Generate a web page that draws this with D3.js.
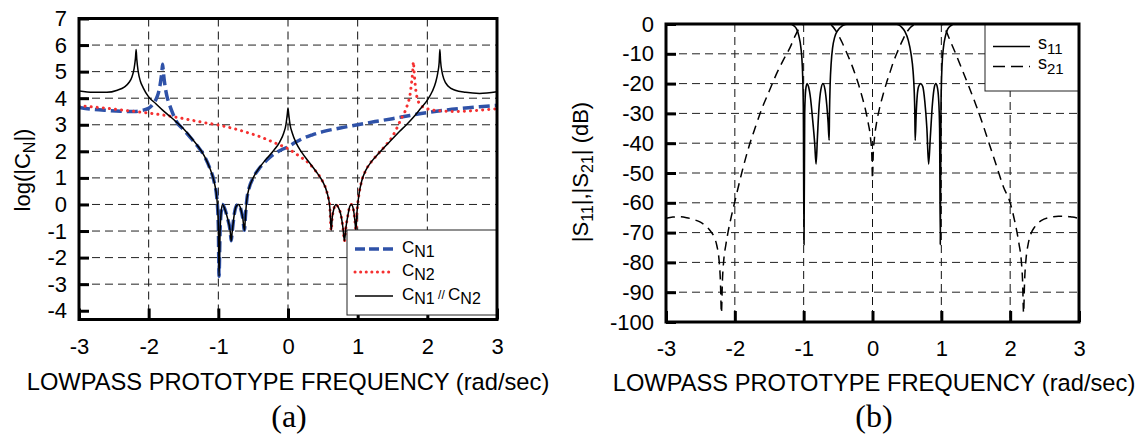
<!DOCTYPE html>
<html>
<head>
<meta charset="utf-8">
<script src="https://cdnjs.cloudflare.com/ajax/libs/d3/7.8.5/d3.min.js"></script>
<style>
  body { margin: 0; background: #fff; }
  svg { display: block; }
  text { font-family: "Liberation Sans", Arial, sans-serif; fill: #000; }
</style>
</head>
<body>
<svg width="1140" height="435"></svg>
<script>
// ticks
var freqTicks = [-3, -2, -1, 0, 1, 2, 3];
var cnTicks = [7, 6, 5, 4, 3, 2, 1, 0, -1, -2, -3, -4];
var sTicks = [0, -10, -20, -30, -40, -50, -60, -70, -80, -90, -100];

// (a) log|C_N| curves, [frequency, log|C|]
var cn1 = [[-3,3.65],[-2.8,3.58],[-2.6,3.54],[-2.4,3.51],[-2.2,3.5],[-2.1,3.54],[-2.0,3.62],[-1.95,3.74],
  [-1.9,3.93],[-1.86,4.2],[-1.83,4.6],[-1.81,5.0],[-1.8,5.28],[-1.79,5.0],[-1.77,4.55],[-1.74,4.1],
  [-1.7,3.75],[-1.65,3.4],[-1.6,3.12],[-1.5,2.82],[-1.4,2.52],[-1.3,2.2],[-1.2,1.82],[-1.12,1.35],
  [-1.06,0.85],[-1.02,0.2],[-1.0,-0.8],[-0.99,-2.7],[-0.975,-1.0],[-0.96,-0.3],[-0.94,0],[-0.91,-0.15],
  [-0.87,-0.5],[-0.83,-1.0],[-0.815,-1.37],[-0.8,-1.0],[-0.77,-0.35],[-0.74,-0.05],[-0.71,0],[-0.68,-0.15],
  [-0.65,-0.5],[-0.625,-0.97],[-0.61,-0.4],[-0.59,0.2],[-0.56,0.6],[-0.5,1.0],[-0.4,1.4],[-0.3,1.68],
  [-0.2,1.9],[-0.1,2.05],[0,2.17],[0.1,2.33],[0.2,2.47],[0.35,2.62],[0.5,2.74],[0.75,2.88],[1.0,3.0],
  [1.25,3.12],[1.5,3.23],[1.75,3.35],[2.0,3.46],[2.25,3.55],[2.5,3.62],[2.75,3.68],[3.0,3.73]];

var cn2 = [[-3,3.72],[-2.8,3.67],[-2.6,3.62],[-2.4,3.56],[-2.2,3.5],[-2.0,3.44],[-1.8,3.37],[-1.6,3.28],
  [-1.4,3.18],[-1.2,3.08],[-1.0,2.99],[-0.8,2.87],[-0.6,2.72],[-0.4,2.55],[-0.2,2.33],[-0.1,2.22],[0,2.1],
  [0.1,1.93],[0.2,1.75],[0.3,1.55],[0.4,1.25],[0.5,0.85],[0.56,0.45],[0.6,-0.1],[0.62,-0.97],[0.635,-0.5],
  [0.66,-0.15],[0.69,0],[0.72,-0.1],[0.76,-0.4],[0.79,-0.9],[0.81,-1.37],[0.83,-0.9],[0.86,-0.4],
  [0.89,-0.05],[0.91,0],[0.94,-0.2],[0.96,-0.6],[0.975,-0.97],[0.99,-0.3],[1.02,0.4],[1.06,0.9],
  [1.12,1.3],[1.2,1.62],[1.3,1.92],[1.4,2.22],[1.5,2.56],[1.56,2.86],[1.62,3.2],[1.68,3.5],[1.72,3.8],
  [1.75,4.1],[1.77,4.5],[1.79,5.0],[1.8,5.37],[1.81,5.0],[1.83,4.4],[1.86,3.95],[1.92,3.7],[2.0,3.6],
  [2.2,3.52],[2.4,3.5],[2.6,3.52],[2.8,3.56],[3.0,3.6]];

var cnBoth = [[-3,4.27],[-2.8,4.22],[-2.6,4.22],[-2.45,4.3],[-2.35,4.42],[-2.28,4.6],[-2.24,4.8],[-2.21,5.1],
  [-2.19,5.5],[-2.18,5.83],[-2.17,5.45],[-2.15,5.0],[-2.12,4.65],[-2.08,4.4],[-2.0,4.05],[-1.9,3.8],
  [-1.8,3.55],[-1.7,3.33],[-1.6,3.1],[-1.5,2.85],[-1.4,2.55],[-1.3,2.22],[-1.2,1.82],[-1.12,1.35],
  [-1.06,0.85],[-1.02,0.2],[-1.0,-0.8],[-0.99,-2.7],[-0.975,-1.0],[-0.96,-0.3],[-0.94,0],[-0.91,-0.15],
  [-0.87,-0.5],[-0.83,-1.0],[-0.815,-1.37],[-0.8,-1.0],[-0.77,-0.35],[-0.74,-0.05],[-0.71,0],[-0.68,-0.15],
  [-0.65,-0.5],[-0.625,-0.97],[-0.61,-0.4],[-0.59,0.2],[-0.56,0.6],[-0.5,1.0],[-0.4,1.42],[-0.3,1.75],
  [-0.2,2.05],[-0.12,2.35],[-0.06,2.7],[-0.03,3.0],[-0.01,3.4],[0,3.63],[0.01,3.4],[0.03,3.0],[0.06,2.7],
  [0.12,2.3],[0.2,1.95],[0.3,1.6],[0.4,1.25],[0.5,0.85],[0.56,0.45],[0.6,-0.1],[0.62,-0.97],[0.635,-0.5],
  [0.66,-0.15],[0.69,0],[0.72,-0.1],[0.76,-0.4],[0.79,-0.9],[0.81,-1.37],[0.83,-0.9],[0.86,-0.4],
  [0.89,-0.05],[0.91,0],[0.94,-0.2],[0.96,-0.6],[0.975,-0.97],[0.99,-0.3],[1.02,0.4],[1.06,0.9],
  [1.12,1.3],[1.2,1.62],[1.3,1.92],[1.4,2.2],[1.5,2.47],[1.6,2.75],[1.7,3.0],[1.8,3.28],[1.9,3.6],
  [2.0,3.93],[2.07,4.25],[2.12,4.6],[2.15,4.95],[2.17,5.35],[2.18,5.83],[2.19,5.4],[2.21,5.0],[2.24,4.7],
  [2.3,4.45],[2.4,4.3],[2.55,4.22],[2.75,4.18],[3.0,4.24]];

// (b) S parameters in dB, [frequency, dB]
var s11 = [[-3,0],[-1.2,0],[-1.15,-0.5],[-1.1,-1.8],[-1.07,-4],[-1.04,-8],[-1.02,-14],[-1.005,-28],
  [-0.995,-74],[-0.985,-30],[-0.97,-22],[-0.95,-20],[-0.93,-21],[-0.9,-25],[-0.87,-32],[-0.84,-40],
  [-0.82,-47],[-0.8,-38],[-0.78,-29],[-0.75,-22],[-0.72,-20],[-0.69,-22],[-0.665,-27],[-0.645,-33],
  [-0.63,-39],[-0.625,-30],[-0.615,-20],[-0.6,-13],[-0.58,-8],[-0.55,-4.5],[-0.5,-2],[-0.45,-0.8],
  [-0.4,-0.2],[-0.35,0],[0.33,0],[0.38,-0.3],[0.42,-1],[0.47,-2.5],[0.52,-5.5],[0.56,-10],[0.59,-16],
  [0.605,-22],[0.615,-30],[0.62,-39],[0.635,-30],[0.65,-24],[0.67,-21],[0.7,-20],[0.73,-21],[0.76,-26],
  [0.79,-35],[0.815,-47],[0.84,-38],[0.87,-27],[0.9,-21],[0.92,-20],[0.94,-21],[0.96,-25],[0.975,-35],
  [0.985,-74],[0.995,-28],[1.01,-14],[1.03,-8],[1.06,-4],[1.09,-1.8],[1.14,-0.5],[1.2,0],[3,0]];

var s21 = [[-3,-65.2],[-2.9,-64.8],[-2.8,-64.7],[-2.7,-65],[-2.6,-65.6],[-2.5,-66.5],[-2.42,-67.8],
  [-2.36,-69.3],[-2.3,-71.5],[-2.26,-74.5],[-2.23,-79],[-2.21,-86],[-2.195,-97],[-2.18,-86],[-2.16,-79],
  [-2.13,-74],[-2.1,-70],[-2.05,-64.5],[-2.0,-59.6],[-1.9,-50],[-1.8,-41.5],[-1.7,-34.5],[-1.6,-28],
  [-1.5,-22.5],[-1.4,-17],[-1.3,-12.3],[-1.2,-8],[-1.12,-3.8],[-1.06,-1.3],[-1.02,-0.2],[-1.0,0],
  [-0.62,0],[-0.58,-0.8],[-0.54,-2.0],[-0.5,-3.5],[-0.45,-5.8],[-0.4,-8.3],[-0.35,-11],[-0.3,-13.8],
  [-0.25,-17],[-0.2,-20.5],[-0.15,-24.5],[-0.1,-29],[-0.06,-33.5],[-0.03,-38],[-0.01,-44],[0,-52],
  [0.01,-44],[0.03,-38],[0.06,-33],[0.1,-28.5],[0.15,-24],[0.2,-20],[0.25,-16.5],[0.3,-13],[0.35,-10],
  [0.4,-7.3],[0.45,-4.8],[0.5,-2.7],[0.55,-1.2],[0.6,-0.3],[0.63,0],[1.0,0],[1.03,-0.5],[1.06,-1.8],
  [1.1,-4],[1.15,-6.8],[1.2,-9.5],[1.3,-15.2],[1.4,-21],[1.5,-27],[1.6,-33.5],[1.7,-40.5],[1.8,-47.5],
  [1.9,-54.5],[2.0,-60],[2.05,-64.5],[2.1,-70],[2.13,-74],[2.16,-79],[2.18,-86],[2.195,-97],[2.21,-86],
  [2.23,-79],[2.26,-74],[2.3,-70.5],[2.36,-68],[2.45,-66],[2.6,-64.8],[2.7,-64.5],[2.8,-64.5],
  [2.9,-64.8],[3.0,-65.2]];

var svg = d3.select("svg");

var xa = d3.scaleLinear().domain([-3, 3]).range([79, 497]);
var ya = d3.scaleLinear().domain([-4.33, 7]).range([319.5, 18.5]);
var xb = d3.scaleLinear().domain([-3, 3]).range([666, 1079]);
var yb = d3.scaleLinear().domain([-100, 0]).range([322, 24]);

// plain hyphen, as in the original figure
function plain(d) { return String(d); }

function panel(id, x, y, yTicks, padBottom) {
  var g = svg.append("g").attr("class", id);
  var x0 = x.range()[0], x1 = x.range()[1], y0 = y.range()[1], y1 = y.range()[0];

  g.append("clipPath").attr("id", "clip-" + id)
    .append("rect").attr("x", x0).attr("y", y0 - 2).attr("width", x1 - x0).attr("height", y1 - y0 + 2);

  // dashed grid
  g.append("g").selectAll("line")
    .data(freqTicks.slice(1, -1))
    .enter().append("line")
      .attr("x1", function(d) { return x(d); })
      .attr("x2", function(d) { return x(d); })
      .attr("y1", y0).attr("y2", y1)
      .attr("stroke", "#111").attr("stroke-width", 1).attr("stroke-dasharray", "8,5");
  g.append("g").selectAll("line")
    .data(yTicks.slice(1, -1))
    .enter().append("line")
      .attr("x1", x0).attr("x2", x1)
      .attr("y1", function(d) { return y(d); })
      .attr("y2", function(d) { return y(d); })
      .attr("stroke", "#222").attr("stroke-width", 1).attr("stroke-dasharray", "8,5");

  var ax = g.append("g")
    .attr("transform", "translate(0," + y1 + ")")
    .call(d3.axisBottom(x).tickValues(freqTicks).tickSize(-11).tickPadding(padBottom).tickFormat(plain));
  var ay = g.append("g")
    .attr("transform", "translate(" + x0 + ",0)")
    .call(d3.axisLeft(y).tickValues(yTicks).tickSize(-10).tickPadding(12).tickFormat(plain));
  [ax, ay].forEach(function(a) {
    a.select(".domain").remove();
    a.selectAll("line").attr("stroke", "#000").attr("stroke-width", 3);
    a.selectAll("text").style("font-size", "22px").style("font-family", '"Liberation Sans", Arial, sans-serif');
  });

  return g;
}

function frame(g, x, y) {
  g.append("rect")
    .attr("x", x.range()[0]).attr("y", y.range()[1])
    .attr("width", x.range()[1] - x.range()[0])
    .attr("height", y.range()[0] - y.range()[1])
    .attr("fill", "none").attr("stroke", "#000").attr("stroke-width", 3);
}

// ---------- panel (a)
var ga = panel("a", xa, ya, cnTicks, 19);
var lineA = d3.line()
  .x(function(d) { return xa(d[0]); })
  .y(function(d) { return ya(d[1]); })
  .curve(d3.curveMonotoneX);
var curvesA = ga.append("g").attr("clip-path", "url(#clip-a)");
curvesA.append("path").datum(cn1).attr("d", lineA)
  .attr("fill", "none").attr("stroke", "#2f52a8").attr("stroke-width", 3.5).attr("stroke-dasharray", "11,5");
curvesA.append("path").datum(cn2).attr("d", lineA)
  .attr("fill", "none").attr("stroke", "#f53030").attr("stroke-width", 3).attr("stroke-linecap", "round")
  .attr("stroke-dasharray", "0.1,6");
curvesA.append("path").datum(cnBoth).attr("d", lineA)
  .attr("fill", "none").attr("stroke", "#000").attr("stroke-width", 1.5);

// legend (a)
var legA = ga.append("g");
legA.append("rect").attr("x", 347).attr("y", 230).attr("width", 150).attr("height", 85)
  .attr("fill", "#fff").attr("stroke", "#222").attr("stroke-width", 1);
var legAItems = [
  {y: 249, stroke: "#2f52a8", w: 3.5, dash: "10,4", cap: "butt", parts: ["C", "N1"]},
  {y: 272, stroke: "#f53030", w: 3, dash: "0.1,5.5", cap: "round", parts: ["C", "N2"]},
  {y: 296, stroke: "#000", w: 1.5, dash: null, cap: "butt", parts: ["C", "N1", " // ", "C", "N2"]}
];
legAItems.forEach(function(it) {
  legA.append("line").attr("x1", 355).attr("x2", 393).attr("y1", it.y).attr("y2", it.y)
    .attr("stroke", it.stroke).attr("stroke-width", it.w).attr("stroke-linecap", it.cap)
    .attr("stroke-dasharray", it.dash);
  var t = legA.append("text").attr("x", 402).attr("y", it.y + 4).style("font-size", "17px");
  var acc = 0;
  it.parts.forEach(function(p) {
    var want = p == "C" ? 0 : (p == " // " ? -1 : 4);
    var ts = t.append("tspan").text(p).attr("dy", want - acc);
    if (p == " // ") ts.style("font-size", "12px");
    else if (p != "C") ts.style("font-size", "16px");
    acc = want;
  });
});
frame(ga, xa, ya);

// labels (a)
var yla = svg.append("text").attr("transform", "translate(29.5,170) rotate(-90)")
  .attr("text-anchor", "middle").style("font-size", "22px");
yla.append("tspan").text("log(|C");
yla.append("tspan").text("N").attr("dy", 5).style("font-size", "16px");
yla.append("tspan").text("|)").attr("dy", -5);
svg.append("text").attr("x", 288).attr("y", 390).attr("text-anchor", "middle")
  .style("font-size", "23.7px").text("LOWPASS PROTOTYPE FREQUENCY (rad/sec)");
svg.append("text").attr("x", 289).attr("y", 427).attr("text-anchor", "middle")
  .style("font-family", '"Liberation Serif", "Times New Roman", serif').style("font-size", "32px").text("(a)");

// ---------- panel (b)
var gb = panel("b", xb, yb, sTicks, 18.5);
var lineB = d3.line()
  .x(function(d) { return xb(d[0]); })
  .y(function(d) { return yb(d[1]); })
  .curve(d3.curveMonotoneX);
var curvesB = gb.append("g").attr("clip-path", "url(#clip-b)");
curvesB.append("path").datum(s21).attr("d", lineB)
  .attr("fill", "none").attr("stroke", "#000").attr("stroke-width", 1.5).attr("stroke-dasharray", "9,6");
curvesB.append("path").datum(s11).attr("d", lineB)
  .attr("fill", "none").attr("stroke", "#000").attr("stroke-width", 1.6);

var legB = gb.append("g");
legB.append("rect").attr("x", 985).attr("y", 24).attr("width", 94).attr("height", 67)
  .attr("fill", "#fff").attr("stroke", "#222").attr("stroke-width", 1);
[{y: 46.5, dash: null, sub: "11"}, {y: 66.5, dash: "12,6", sub: "21"}].forEach(function(it) {
  legB.append("line").attr("x1", 993).attr("x2", 1030).attr("y1", it.y).attr("y2", it.y)
    .attr("stroke", "#000").attr("stroke-width", 1.5).attr("stroke-dasharray", it.dash);
  var t = legB.append("text").attr("x", 1038).attr("y", it.y + 2.5).style("font-size", "18px");
  t.append("tspan").text("s");
  t.append("tspan").text(it.sub).attr("dy", 5).style("font-size", "15px");
});
frame(gb, xb, yb);

var ylb = svg.append("text").attr("transform", "translate(588,172) rotate(-90)")
  .attr("text-anchor", "middle").style("font-size", "22px");
ylb.append("tspan").text("|S");
ylb.append("tspan").text("11").attr("dy", 5).style("font-size", "16px");
ylb.append("tspan").text("|,|S").attr("dy", -5);
ylb.append("tspan").text("21").attr("dy", 5).style("font-size", "16px");
ylb.append("tspan").text("| (dB)").attr("dy", -5);
svg.append("text").attr("x", 874).attr("y", 391).attr("text-anchor", "middle")
  .style("font-size", "23.7px").text("LOWPASS PROTOTYPE FREQUENCY (rad/sec)");
svg.append("text").attr("x", 874).attr("y", 427).attr("text-anchor", "middle")
  .style("font-family", '"Liberation Serif", "Times New Roman", serif').style("font-size", "32px").text("(b)");
</script>
</body>
</html>
